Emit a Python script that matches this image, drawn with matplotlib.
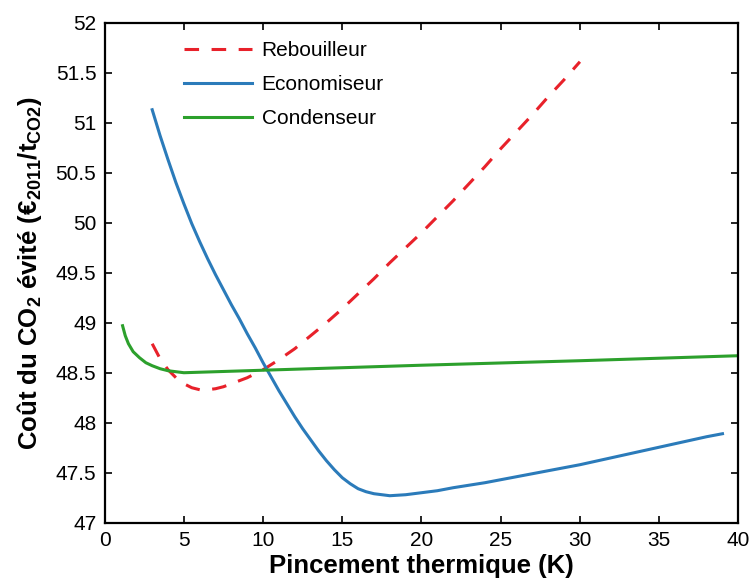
import matplotlib
matplotlib.use("Agg")
import matplotlib.pyplot as plt

plt.rcParams['font.family'] = ['Liberation Sans', 'DejaVu Sans']
plt.rcParams['mathtext.default'] = 'regular'
plt.rcParams['lines.scale_dashes'] = False

# Rebouilleur (red dashed)
x_reb = [3.0, 3.5, 4.0, 4.5, 5.0, 5.5, 6.0, 6.5, 7.0, 7.5, 8.0, 9.0, 10.0, 11.0, 12.0, 13.0, 14.0, 15.0,
         16.0, 17.0, 18.0, 19.0, 20.0, 21.0, 22.0, 23.0, 24.0, 25.0, 26.0, 27.0, 28.0, 29.0, 30.0]
y_reb = [48.79, 48.64, 48.53, 48.45, 48.39, 48.35, 48.33, 48.33, 48.34, 48.36, 48.39, 48.45, 48.53, 48.63,
         48.74, 48.87, 49.00, 49.14, 49.29, 49.44, 49.60, 49.75, 49.90, 50.06, 50.22, 50.39, 50.56, 50.74,
         50.91, 51.08, 51.26, 51.43, 51.61]

# Economiseur (blue)
x_eco = [3.0, 3.5, 4.0, 4.5, 5.0, 5.5, 6.0, 6.5, 7.0, 7.5, 8.0, 8.5, 9.0, 9.5, 10.0, 10.5, 11.0, 11.5,
         12.0, 12.5, 13.0, 13.5, 14.0, 14.5, 15.0, 15.5, 16.0, 16.5, 17.0, 17.5, 18.0, 18.5, 19.0, 20.0,
         21.0, 22.0, 24.0, 26.0, 28.0, 30.0, 32.0, 34.0, 36.0, 38.0, 39.0]
y_eco = [51.13, 50.87, 50.63, 50.40, 50.19, 49.99, 49.81, 49.64, 49.48, 49.33, 49.18, 49.04, 48.89, 48.75,
         48.60, 48.46, 48.32, 48.19, 48.06, 47.94, 47.83, 47.72, 47.62, 47.53, 47.45, 47.39, 47.34, 47.31,
         47.29, 47.28, 47.27, 47.275, 47.28, 47.30, 47.32, 47.35, 47.40, 47.46, 47.52, 47.58, 47.65, 47.72,
         47.79, 47.86, 47.89]

# Condenseur (green)
x_con = [1.13, 1.3, 1.5, 1.8, 2.2, 2.6, 3.0, 3.5, 4.0, 4.5, 5.0, 10.0, 20.0, 30.0, 40.0]
y_con = [48.97, 48.87, 48.79, 48.71, 48.65, 48.60, 48.57, 48.54, 48.52, 48.51, 48.50, 48.525, 48.575,
         48.62, 48.67]

xticks = [0, 5, 10, 15, 20, 25, 30, 35, 40]
yticks = [47, 47.5, 48, 48.5, 49, 49.5, 50, 50.5, 51, 51.5, 52]
yticklabels = ['47', '47.5', '48', '48.5', '49', '49.5', '50', '50.5', '51', '51.5', '52']

fig = plt.figure(figsize=(7.53, 5.83), dpi=100)
ax = fig.add_axes([0.139, 0.1034, 0.8415, 0.8576])

lw = 2.2
ax.plot(x_reb, y_reb, color='#e8212a', lw=lw, dashes=(10.5, 9.0), label='Rebouilleur')
ax.plot(x_eco, y_eco, color='#2b7bba', lw=lw, label='Economiseur')
ax.plot(x_con, y_con, color='#2ca02c', lw=lw, label='Condenseur')

ax.set_xlim(0, 40)
ax.set_ylim(47, 52)
ax.set_xticks(xticks)
ax.set_yticks(yticks)
ax.set_yticklabels(yticklabels)
ax.tick_params(direction='in', top=True, right=True, length=5, width=1.2, labelsize=15, pad=6)
for s in ax.spines.values():
    s.set_linewidth(1.6)

ax.set_xlabel('Pincement thermique (K)', fontsize=18.5, fontweight='bold', labelpad=3)
ax.set_ylabel('Coût du CO$_2$ évité (€$_{2011}$/t$_{CO2}$)', fontsize=18.5, fontweight='bold', labelpad=8)

leg = ax.legend(loc='upper left', bbox_to_anchor=(0.095, 1.0), frameon=False, fontsize=15,
                handlelength=3.3, handletextpad=0.45, labelspacing=0.72)

fig.savefig('out.png', dpi=100)
